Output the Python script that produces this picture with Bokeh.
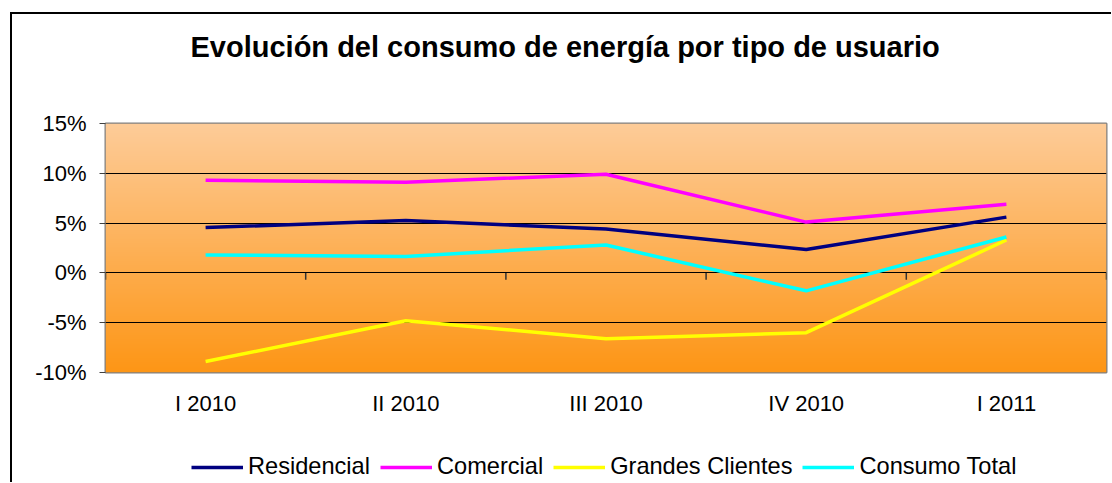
import numpy as np
from bokeh.plotting import figure
from bokeh.layouts import column
from bokeh.models import FactorRange, Range1d, FixedTicker, Legend, LegendItem, Title
from bokeh.embed import file_html
from bokeh.resources import INLINE

categories = ["I 2010", "II 2010", "III 2010", "IV 2010", "I 2011"]
residencial = [4.55, 5.25, 4.4, 2.35, 5.6]
comercial = [9.3, 9.1, 9.9, 5.1, 6.9]
grandes_clientes = [-8.9, -4.8, -6.6, -6.0, 3.3]
consumo_total = [1.8, 1.65, 2.8, -1.8, 3.6]

series_names = ["Residencial", "Comercial", "Grandes Clientes", "Consumo Total"]
series_values = [residencial, comercial, grandes_clientes, consumo_total]
series_colors = ["#000080", "#FF00FF", "#FFFF00", "#00FFFF"]

y_ticks = [-10, -5, 0, 5, 10, 15]
y_tick_labels = ["-10%", "-5%", "0%", "5%", "10%", "15%"]

title_text = "Evolución del consumo de energía por tipo de usuario"
FONT = "Liberation Sans"

p = figure(frame_width=1001, frame_height=249, output_backend="svg", toolbar_location=None,
           x_range=FactorRange(*categories, range_padding=0),
           y_range=Range1d(y_ticks[0], y_ticks[-1]),
           min_border_left=93, min_border_right=5, min_border_top=109, min_border_bottom=60,
           background_fill_color="white", border_fill_color="white")
p.title = None

# spacer between title and plot area, then the title itself
spacer = Title(text=" ", text_font_size="10px", standoff=48)
p.add_layout(spacer, "above")
t = Title(text=title_text, align="left", text_font=FONT, text_font_size="29px",
          text_font_style="bold", text_color="black", offset=85, standoff=0)
p.add_layout(t, "above")

# gradient background of plot area
n = 250
top = np.array([254, 204, 153], dtype=float)
bot = np.array([253, 150, 22], dtype=float)
frac = np.linspace(0, 1, n)[:, None]
cols = bot + (top - bot) * frac
img = np.zeros((n, 2), dtype=np.uint32)
view = img.view(dtype=np.uint8).reshape((n, 2, 4))
view[:, :, 0] = cols[:, None, 0].astype(np.uint8)
view[:, :, 1] = cols[:, None, 1].astype(np.uint8)
view[:, :, 2] = cols[:, None, 2].astype(np.uint8)
view[:, :, 3] = 255
p.image_rgba(image=[img], x=0, y=y_ticks[0], dw=len(categories),
             dh=y_ticks[-1] - y_ticks[0], level="image")

p.outline_line_color = "#808080"
p.outline_line_width = 2

p.xgrid.grid_line_color = None
p.ygrid.grid_line_color = "black"
p.ygrid.grid_line_width = 1
p.ygrid.ticker = FixedTicker(ticks=y_ticks)

# category boundary ticks on the zero line
bounds = list(range(len(categories) + 1))
p.segment(x0=bounds, y0=[0] * len(bounds), x1=bounds, y1=[-0.7] * len(bounds),
          line_color="#333333", line_width=1.5)

for name, vals, col in zip(series_names, series_values, series_colors):
    p.line(x=categories, y=vals, line_color=col, line_width=3.5)

yax = p.yaxis[0]
yax.ticker = FixedTicker(ticks=y_ticks)
yax.major_label_overrides = {v: l for v, l in zip(y_ticks, y_tick_labels)}
yax.axis_line_color = None
yax.major_tick_out = 6
yax.major_tick_in = 0
yax.major_tick_line_color = "#404040"
yax.minor_tick_line_color = None
yax.major_label_text_font = FONT
yax.major_label_text_font_size = "22px"
yax.major_label_text_color = "black"
yax.major_label_standoff = 13

xax = p.xaxis[0]
xax.axis_line_color = None
xax.major_tick_line_color = None
xax.minor_tick_line_color = None
xax.major_label_text_font = FONT
xax.major_label_text_font_size = "22px"
xax.major_label_text_color = "black"
xax.major_label_standoff = 12

# legend strip below the chart (its series lines lie outside its visible range)
lg = figure(width=1099, height=50, output_backend="svg", toolbar_location=None,
            x_axis_type=None, y_axis_type=None, min_border=0,
            x_range=Range1d(0, 1), y_range=Range1d(100, 101),
            background_fill_color="white", border_fill_color="white")
lg.outline_line_color = None
lg.grid.grid_line_color = None
items = []
for name, vals, col in zip(series_names, series_values, series_colors):
    r = lg.line(x=list(range(len(categories))), y=vals, line_color=col, line_width=3.5)
    items.append(LegendItem(label=name, renderers=[r]))
legend = Legend(items=items, orientation="horizontal", location=(86, 2),
                label_text_font=FONT, label_text_font_size="23.6px", label_text_color="black",
                glyph_width=52, glyph_height=20, label_standoff=5, spacing=10,
                padding=0, margin=0, border_line_color=None, background_fill_alpha=0)
lg.add_layout(legend, "center")

layout = column(p, lg, spacing=0)
# outer chart-area border (left and top edges visible in the crop)
layout.styles = {"margin-left": "10px", "margin-top": "12px",
                 "border-left": "2px solid black", "border-top": "2px solid black"}

open("out.html", "w").write(file_html(layout, INLINE))
